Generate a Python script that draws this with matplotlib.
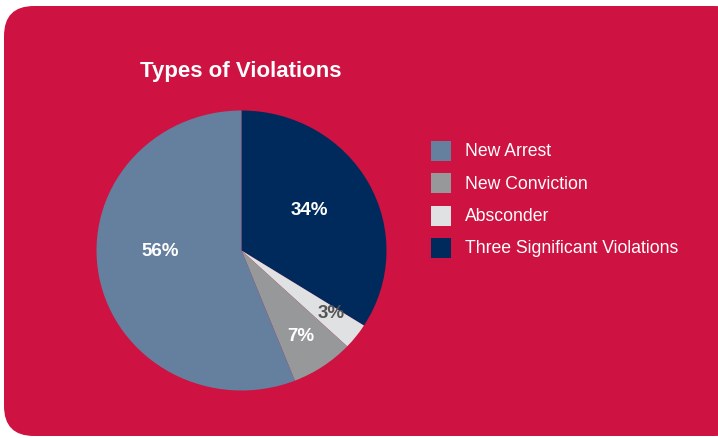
import matplotlib.pyplot as plt
from matplotlib.patches import FancyBboxPatch, Rectangle
import numpy as np

plt.rcParams['font.family'] = ['Liberation Sans', 'DejaVu Sans']

# data, clockwise from 12 o'clock
categories = ["Three Significant Violations", "Absconder", "New Conviction", "New Arrest"]
shares = [34, 3, 7, 56]
colors = ["#002A5C", "#E0E1E3", "#97989A", "#657F9E"]
label_colors = ["white", "#555555", "white", "white"]
legend_order = ["New Arrest", "New Conviction", "Absconder", "Three Significant Violations"]

W, H = 718, 439
fig = plt.figure(figsize=(W / 100, H / 100), dpi=100)
fig.patch.set_facecolor("white")

# background panel in pixel coords
bg = fig.add_axes([0, 0, 1, 1])
bg.set_xlim(0, W)
bg.set_ylim(H, 0)
bg.axis("off")
bg.add_patch(FancyBboxPatch((4 + 30, 7 + 30), 740 - 60, 430 - 60,
                            boxstyle="round,pad=30", fc="#CE1241", ec="none"))
bg.text(140, 72, "Types of Violations", color="white", fontsize=16,
        fontweight="bold", va="center", ha="left")

# legend
for i, name in enumerate(legend_order):
    y = 152 + i * 32.3
    c = colors[categories.index(name)]
    bg.add_patch(Rectangle((431, y - 10), 20, 20, fc=c, ec="none"))
    bg.text(465, y, name, color="white", fontsize=12.7, va="center", ha="left")

# pie (slightly wider than tall, like the original)
cx, cy, rx, ry = 241.5, 251.5, 145, 140
pax = fig.add_axes([(cx - rx) / W, (H - cy - ry) / H, 2 * rx / W, 2 * ry / H])
wedges, _ = pax.pie(shares, colors=colors, startangle=90, counterclock=False,
                    radius=1, wedgeprops=dict(linewidth=0))
pax.set_xlim(-1, 1)
pax.set_ylim(-1, 1)
pax.set_aspect("auto")
pax.axis("off")

dists = [0.55, 0.76, 0.73, 0.56]
ang_shift = [3, 2, 0, -10.8]
for w, v, d, da, tc in zip(wedges, shares, dists, ang_shift, label_colors):
    ang = np.deg2rad((w.theta1 + w.theta2) / 2 + da)
    pax.text(d * np.cos(ang), d * np.sin(ang), f"{v}%", color=tc, fontsize=13.5,
             fontweight="bold", ha="center", va="center")

fig.savefig("out.png", dpi=100, facecolor=fig.get_facecolor())
